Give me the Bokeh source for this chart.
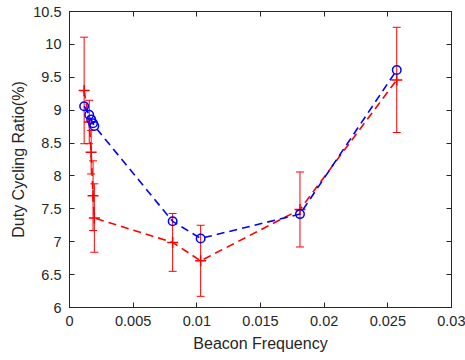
from bokeh.plotting import figure
from bokeh.models import ColumnDataSource, Whisker, TeeHead, LinearAxis, FixedTicker, Range1d
from bokeh.embed import file_html
from bokeh.resources import INLINE

# ---- data ----
freq = [0.00115, 0.00155, 0.0017, 0.00185, 0.00195, 0.0081, 0.0103, 0.0181, 0.0257]
ratio_blue = [9.06, 8.93, 8.86, 8.80, 8.76, 7.31, 7.05, 7.42, 9.61]
ratio_red = [9.30, 8.82, 8.36, 7.70, 7.36, 6.99, 6.71, 7.49, 9.46]
err_red = [0.81, 0.33, 0.33, 0.53, 0.52, 0.44, 0.54, 0.57, 0.80]

x_ticks = [0, 0.005, 0.01, 0.015, 0.02, 0.025, 0.03]
x_tick_labels = ["0", "0.005", "0.01", "0.015", "0.02", "0.025", "0.03"]
y_ticks = [6, 6.5, 7, 7.5, 8, 8.5, 9, 9.5, 10, 10.5]
y_tick_labels = ["6", "6.5", "7", "7.5", "8", "8.5", "9", "9.5", "10", "10.5"]

FONT = "Liberation Sans"
TXT = "#262626"

p = figure(width=465, height=360, output_backend="svg", toolbar_location=None,
           x_range=Range1d(0, 0.03), y_range=Range1d(6, 10.5),
           min_border_left=69, min_border_right=14, min_border_top=11, min_border_bottom=53,
           x_axis_label="Beacon Frequency", y_axis_label="Duty Cycling Ratio(%)")
p.grid.visible = False
p.outline_line_color = TXT
p.outline_line_width = 1
p.background_fill_color = "white"
p.border_fill_color = "white"

def style_axis(ax, ticks, labels, show_labels=True):
    ax.ticker = FixedTicker(ticks=ticks)
    ax.major_label_overrides = {t: (l if show_labels else "") for t, l in zip(ticks, labels)}
    ax.minor_tick_line_color = None
    ax.major_tick_in = 5
    ax.major_tick_out = 0
    ax.major_tick_line_color = TXT
    ax.axis_line_color = TXT
    ax.major_label_text_font = FONT
    ax.major_label_text_font_size = "14.5px" if show_labels else "0px"
    ax.major_label_text_color = TXT
    ax.axis_label_text_font = FONT
    ax.axis_label_text_font_size = "16px"
    ax.axis_label_text_font_style = "normal"
    ax.axis_label_text_color = TXT

style_axis(p.xaxis[0], x_ticks, x_tick_labels)
style_axis(p.yaxis[0], y_ticks, y_tick_labels)
p.xaxis[0].major_label_standoff = 8
p.xaxis[0].axis_label_standoff = 6
p.yaxis[0].major_label_standoff = 8
p.yaxis[0].axis_label_standoff = 3

top = LinearAxis()
style_axis(top, x_ticks, x_tick_labels, show_labels=False)
top.major_label_standoff = 0
p.add_layout(top, "above")
right = LinearAxis()
style_axis(right, y_ticks, y_tick_labels, show_labels=False)
right.major_label_standoff = 0
p.add_layout(right, "right")

src = ColumnDataSource(dict(
    x=freq, blue=ratio_blue, red=ratio_red,
    lo=[r - e for r, e in zip(ratio_red, err_red)],
    hi=[r + e for r, e in zip(ratio_red, err_red)],
))

# red series with error bars
w = Whisker(source=src, base="x", upper="hi", lower="lo", line_color="red", line_width=1,
            upper_head=TeeHead(size=8, line_color="red", line_width=1),
            lower_head=TeeHead(size=8, line_color="red", line_width=1))
p.add_layout(w)
p.line("x", "red", source=src, line_color="red", line_width=1.6, line_dash="8 5")
p.scatter("x", "red", source=src, marker="cross", size=11, line_color="red", line_width=1.5)

# blue series
p.line("x", "blue", source=src, line_color="blue", line_width=1.6, line_dash="8 5")
p.scatter("x", "blue", source=src, marker="circle", size=8.5, line_color="blue",
          fill_color=None, line_width=1.5)

open("out.html", "w").write(file_html(p, INLINE))
